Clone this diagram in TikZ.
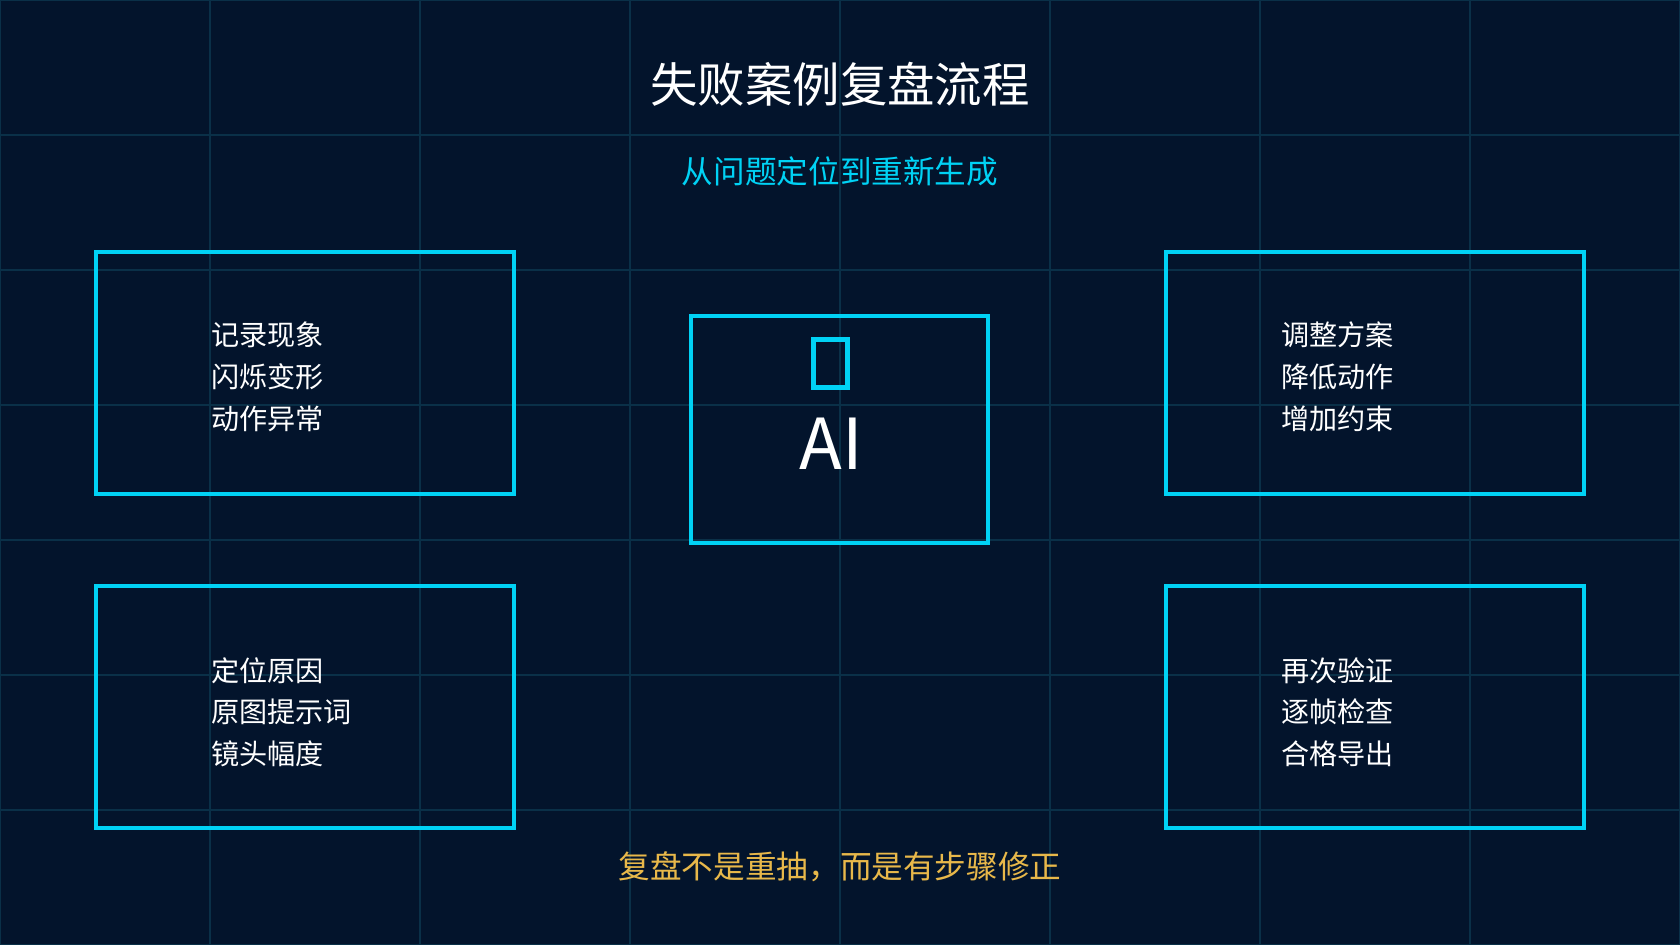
\documentclass[tikz,border=0pt]{standalone}
\usepackage{fontspec}
\setmainfont{Noto Sans CJK SC}
\definecolor{bg}{HTML}{03142C}
\definecolor{gridc}{HTML}{0A3048}
\definecolor{cy}{HTML}{00D2F5}
\definecolor{gold}{HTML}{E8B84A}
\begin{document}
\begin{tikzpicture}[x=0.02cm,y=-0.02cm,
  box/.style={draw=cy,line width=0.065cm},
  item/.style={text=white,font=\fontsize{16}{20}\selectfont,anchor=west,inner sep=0pt}]
\fill[bg] (0,0) rectangle (1680,945);
\useasboundingbox (0,0) rectangle (1680,945);
\foreach \x in {0,210,...,1680} \draw[gridc,line width=0.03cm] (\x,0) -- (\x,945);
\foreach \y in {0,135,...,945} \draw[gridc,line width=0.03cm] (0,\y) -- (1680,\y);
\node (title) at (840,84) {\fontsize{27}{32}\selectfont\color{white}失败案例复盘流程};
\node (sub) at (840,171) {\fontsize{18}{22}\selectfont\color{cy}从问题定位到重新生成};
\draw[box] (96,252) rectangle (514,494) coordinate (b1);
\draw[box] (96,586) rectangle (514,828) coordinate (b2);
\draw[box] (1166,252) rectangle (1584,494) coordinate (b3);
\draw[box] (1166,586) rectangle (1584,828) coordinate (b4);
\draw[box] (691,316) rectangle (988,543) coordinate (c);
\draw[cy,line width=0.1cm] (813,340) rectangle (847,388) coordinate (icon);
\node[text=white,font=\fontsize{40}{44}\selectfont] (ai) at (831,444) {AI};
\node[item] (l1) at (211,335) {记录现象};
\node[item] (l2) at (211,377) {闪烁变形};
\node[item] (l3) at (211,419) {动作异常};
\node[item] (l4) at (211,671) {定位原因};
\node[item] (l5) at (211,712) {原图提示词};
\node[item] (l6) at (211,754) {镜头幅度};
\node[item] (r1) at (1281,335) {调整方案};
\node[item] (r2) at (1281,377) {降低动作};
\node[item] (r3) at (1281,419) {增加约束};
\node[item] (r4) at (1281,671) {再次验证};
\node[item] (r5) at (1281,712) {逐帧检查};
\node[item] (r6) at (1281,754) {合格导出};
\node (foot) at (840,867) {\fontsize{18}{22}\selectfont\color{gold}复盘不是重抽，而是有步骤修正};
\end{tikzpicture}
\end{document}
